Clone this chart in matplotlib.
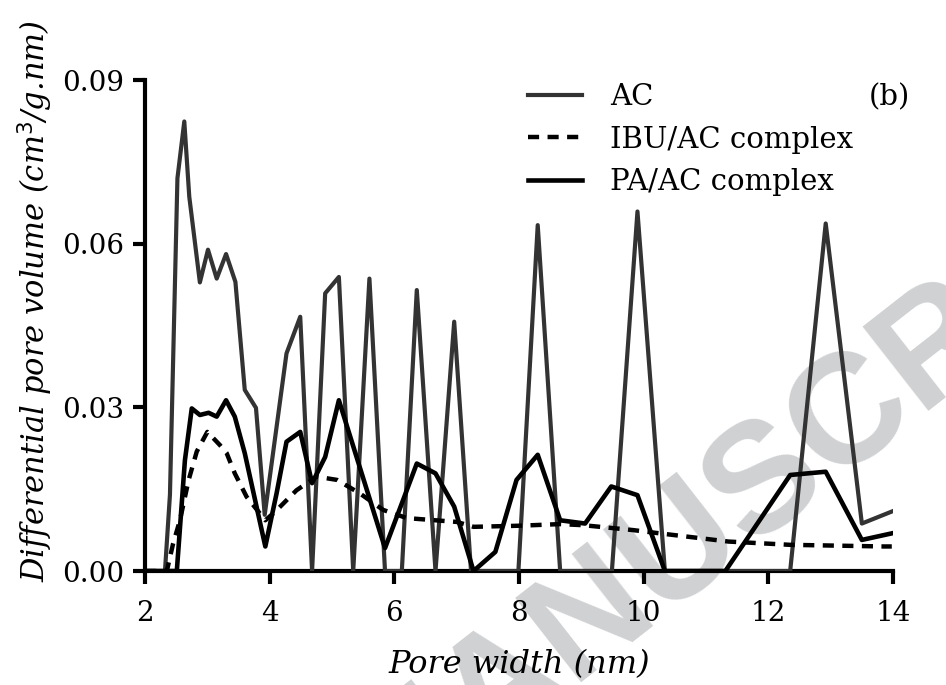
import matplotlib
matplotlib.use("Agg")
import matplotlib.pyplot as plt

# pore width (nm) and differential pore volume (cm3/g.nm)
ac_x = [2.0, 2.32, 2.40, 2.52, 2.63, 2.71, 2.88, 3.01, 3.15, 3.30, 3.45, 3.60, 3.78, 3.92,
        4.27, 4.49, 4.68, 4.89, 5.11, 5.34, 5.60, 5.85, 6.12, 6.36, 6.66, 6.96, 7.23,
        7.99, 8.30, 8.66, 9.49, 9.90, 10.34, 12.35, 12.92, 13.50, 13.98]
ac_y = [0.0, 0.0, 0.0140, 0.0720, 0.0824, 0.0686, 0.0529, 0.0589, 0.0536, 0.0581, 0.0530,
        0.0332, 0.0299, 0.0103, 0.0399, 0.0466, 0.0, 0.0509, 0.0539, 0.0, 0.0536, 0.0, 0.0,
        0.0515, 0.0, 0.0457, 0.0, 0.0, 0.0634, 0.0, 0.0, 0.0659, 0.0, 0.0, 0.0637, 0.0087,
        0.0109]

ibu_x = [2.0, 2.35, 2.45, 2.56, 2.70, 2.83, 3.00, 3.20, 3.31, 3.44, 3.63, 3.93, 4.09, 4.43,
         4.75, 5.08, 5.45, 5.82, 6.20, 7.00, 7.27, 8.00, 8.66, 9.03, 9.83, 10.26, 11.36,
         12.35, 13.85, 13.98]
ibu_y = [0.0, 0.0, 0.0050, 0.0093, 0.0167, 0.0219, 0.0255, 0.0231, 0.0216, 0.0179, 0.0136,
         0.0093, 0.0109, 0.0148, 0.0173, 0.0167, 0.0142, 0.0112, 0.0097, 0.0090, 0.0081,
         0.0083, 0.0086, 0.0084, 0.0075, 0.0069, 0.0054, 0.0048, 0.0045, 0.0045]

pa_x = [2.0, 2.51, 2.64, 2.75, 2.88, 3.02, 3.15, 3.30, 3.44, 3.60, 3.93, 4.11, 4.27, 4.49,
        4.68, 4.89, 5.11, 5.85, 6.12, 6.36, 6.66, 6.96, 7.27, 7.62, 7.96, 8.30, 8.66, 9.06,
        9.48, 9.90, 10.34, 11.31, 12.35, 12.92, 13.50, 13.98]
pa_y = [0.0, 0.0, 0.0203, 0.0298, 0.0286, 0.0290, 0.0283, 0.0313, 0.0283, 0.0216, 0.0045,
        0.0142, 0.0237, 0.0255, 0.0161, 0.0209, 0.0313, 0.0042, 0.0124, 0.0197, 0.0179,
        0.0118, 0.0, 0.0035, 0.0167, 0.0213, 0.0093, 0.0087, 0.0155, 0.0139, 0.0, 0.0,
        0.0176, 0.0182, 0.0057, 0.0069]

x_ticks = [2, 4, 6, 8, 10, 12, 14]
y_ticks = [0.00, 0.03, 0.06, 0.09]

plt.rcParams['font.family'] = ['DejaVu Serif']

fig = plt.figure(figsize=(9.46, 6.85), dpi=100)
ax = fig.add_axes([0.1533, 0.1664, 0.7907, 0.7168])
ax.patch.set_alpha(0)

# faint watermark behind the plot
fig.text(0.808, 0.30, "MANUSCRIPT", fontsize=112, fontweight='bold',
         family='Liberation Sans', color='#d0d1d3', rotation=38,
         ha='center', va='center', rotation_mode='anchor', zorder=-1)

ax.plot(ac_x, ac_y, color='#333333', lw=3.0, label='AC', zorder=3)
ax.plot(ibu_x, ibu_y, color='black', lw=3.2, dashes=(2.5, 1.9), label='IBU/AC complex', zorder=4)
ax.plot(pa_x, pa_y, color='black', lw=3.3, label='PA/AC complex', zorder=5)

ax.set_xlim(2, 14)
ax.set_ylim(0, 0.09)
ax.set_xticks(x_ticks)
ax.set_yticks(y_ticks)
ax.set_yticklabels(['%.2f' % v for v in y_ticks])

for side in ['top', 'right']:
    ax.spines[side].set_visible(False)
for side in ['left', 'bottom']:
    ax.spines[side].set_linewidth(3.0)
ax.tick_params(direction='out', length=9, width=3.0, labelsize=20)
ax.tick_params(axis='x', pad=12)
ax.tick_params(axis='y', pad=6)

ax.set_xlabel('Pore width (nm)', fontsize=23, style='italic', labelpad=16)
ax.set_ylabel('Differential pore volume (cm$^3$/g.nm)', fontsize=22, style='italic')
ax.yaxis.set_label_coords(-0.12, 0.55)

leg = ax.legend(loc='upper left', bbox_to_anchor=(0.512, 0.994), frameon=False,
                fontsize=21, handlelength=1.85, handletextpad=0.95, labelspacing=0.5,
                borderpad=0, borderaxespad=0)

fig.text(0.918, 0.858, '(b)', fontsize=21, va='center', ha='left')

fig.savefig('out.png', dpi=100)
